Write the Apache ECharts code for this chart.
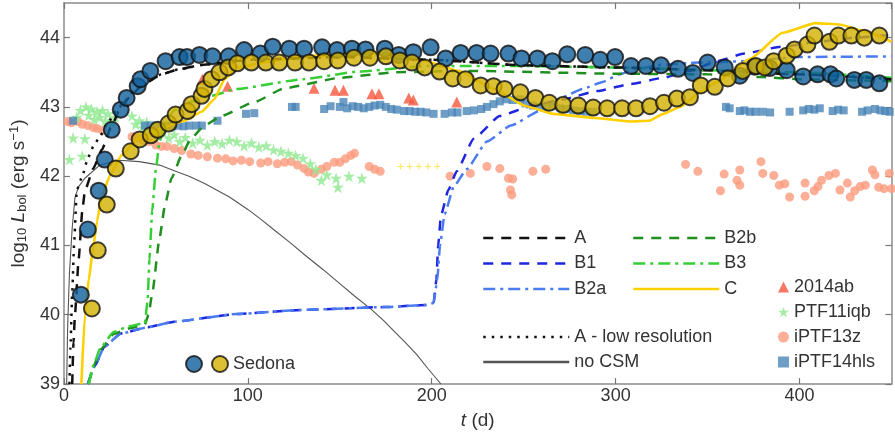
<!DOCTYPE html>
<html>
<head>
<meta charset="utf-8">
<script src="https://cdn.jsdelivr.net/npm/echarts@6/dist/echarts.min.js"></script>
<style>
  html, body { margin: 0; padding: 0; background: #fff; }
  #chart { width: 895px; height: 435px; }
</style>
</head>
<body>
<div id="chart"></div>
<script>
// ticks
const xTicks = { min: 0, max: 450, step: 100 };
const yTicks = { min: 39, max: 44.5, step: 1 };

// model light curves, [t (d), log10 L]
const modelA = [[4.5,39],[5.2,39.6],[6,40],[8,40.8],[10,41.5],[11.4,41.79],[16,42.11],[20.6,42.38],[26,42.73],[31,43.0],[36,43.15],[42,43.3],[53,43.47],[62,43.54],[76,43.61],[100,43.68],[150,43.72],[200,43.68],[250,43.6],[300,43.57],[350,43.53],[400,43.47],[450,43.4]];
const modelALow = [[3,39],[3.5,39.5],[4.5,40.3],[5.5,41.0],[7,41.8],[10,42.0],[13,42.26],[16,42.43],[19.5,42.57],[24,42.78],[30,43.0],[40,43.28],[53,43.47],[62,43.54],[76,43.61],[100,43.68],[150,43.72],[200,43.68],[250,43.6],[300,43.57],[350,43.53],[400,43.47],[450,43.4]];
const modelB1 = [[13,39],[16.8,39.26],[22,39.54],[31,39.73],[45.6,39.82],[60,39.9],[94,40.01],[130,40.07],[174,40.11],[197,40.14],[201,40.17],[202.5,40.5],[203.5,41.0],[205,41.43],[209,41.8],[213.6,42.07],[222.8,42.54],[237,42.87],[255,43.02],[271.5,43.11],[290,43.23],[308,43.33],[326,43.42],[340,43.52],[355,43.66],[370,43.77],[390,43.87],[410,43.94],[430,44.0],[450,44.04]];
const modelB2a = [[13,39],[16.8,39.26],[22,39.54],[31,39.73],[45.6,39.82],[60,39.9],[94,40.01],[130,40.07],[174,40.11],[197,40.14],[201,40.17],[203,40.5],[204.5,41.0],[207,41.45],[212,41.85],[219,42.1],[230,42.5],[243,42.73],[260,42.96],[271,43.14],[282,43.26],[293,43.36],[302,43.47],[311,43.55],[326,43.61],[345,43.64],[370,43.66],[400,43.72],[450,43.73]];
const modelB2b = [[13.5,39],[16,39.25],[20,39.5],[27,39.72],[35,39.8],[44,39.86],[46,40.0],[48,40.3],[52,41.11],[55,41.59],[58.5,41.97],[64,42.3],[69,42.54],[76.4,42.73],[85.6,42.87],[103.5,43.07],[120,43.27],[150,43.42],[180,43.5],[220,43.52],[300,43.48],[350,43.47],[380,43.43],[400,43.4],[450,43.37]];
const modelB3 = [[13.5,39],[16,39.27],[20,39.53],[27,39.75],[35,39.83],[44,39.88],[45.5,40.2],[46.5,40.8],[48,41.5],[50,42.1],[52,42.5],[55,42.78],[60,42.95],[70,43.08],[80,43.16],[94,43.26],[130,43.4],[160,43.51],[197,43.59],[250,43.59],[300,43.57],[350,43.53],[400,43.5],[450,43.42]];
const modelC = [[9.5,39],[11.4,40.0],[13.5,40.5],[15.9,40.97],[18,41.35],[20.4,41.69],[25,42.01],[31.3,42.3],[40.3,42.54],[54.7,42.71],[65.6,42.8],[74.8,42.93],[81.8,43.11],[87.3,43.4],[94.3,43.57],[112.7,43.66],[130.6,43.73],[161.5,43.78],[179,43.76],[197,43.66],[215.7,43.51],[233.6,43.26],[251.5,43.01],[266,42.9],[289,42.84],[308,42.79],[318,42.8],[326,42.9],[335,43.0],[347,43.23],[354.5,43.35],[372.9,43.69],[390.8,44.07],[408.7,44.21],[421.7,44.19],[435.8,44.09],[450,43.94]];
const noCSM = [[1.5,39],[2,39.8],[3,40.6],[4.5,41.25],[6,41.69],[8,41.85],[11.4,41.97],[19.5,42.16],[30,42.23],[41,42.21],[52,42.16],[60,42.08],[68,42.0],[76,41.9],[83,41.8],[90,41.7],[100,41.52],[107,41.38],[114,41.23],[123,41.04],[132,40.84],[141,40.65],[150,40.45],[158,40.27],[167,40.08],[174,39.91],[180,39.75],[186,39.59],[192,39.42],[198,39.22],[205,39.0]];

// Sedona synthetic light curves
const sedonaA = [[9.2,40.29],[13,41.23],[18.9,41.79],[22.2,42.24],[26,42.67],[30.9,42.96],[34.1,43.13],[40.1,43.3],[41.7,43.4],[47,43.52],[55.3,43.66],[62.9,43.72],[67,43.72],[73.7,43.75],[80.8,43.73],[89.6,43.73],[98,43.82],[106.8,43.77],[113.5,43.87],[122.5,43.84],[130.6,43.84],[140.4,43.86],[148.5,43.82],[156.6,43.84],[164,43.83],[174.5,43.84],[182,43.75],[190,43.79],[199.4,43.86],[207.6,43.7],[215.7,43.78],[224.4,43.78],[232,43.77],[241.7,43.77],[248.8,43.7],[257.5,43.7],[265.6,43.66],[273.7,43.76],[283.5,43.75],[291.6,43.68],[299.7,43.72],[308.4,43.59],[316.5,43.59],[324.7,43.6],[333.9,43.55],[342,43.49],[350,43.64],[359.3,43.57],[367.5,43.45],[375.6,43.58],[383.7,43.56],[393,43.53],[402,43.44],[409.8,43.47],[416.8,43.47],[420,43.41],[429.8,43.39],[436.3,43.39],[443.4,43.34]];
const sedonaC = [[15.2,40.09],[18.4,40.93],[23.3,41.59],[28.2,42.11],[36.3,42.36],[41.2,42.53],[47.2,42.59],[51,42.67],[56.9,42.76],[60.7,42.89],[67.2,42.94],[69.4,43.04],[74.8,43.16],[76.4,43.26],[80.2,43.4],[84.6,43.5],[89.4,43.57],[94.3,43.63],[101.9,43.64],[109.8,43.64],[117.1,43.64],[125.7,43.64],[133.3,43.64],[141.5,43.66],[149,43.67],[157.7,43.71],[166.4,43.71],[175.1,43.73],[182.7,43.67],[189.2,43.64],[196.2,43.57],[204.3,43.51],[211.4,43.41],[218.4,43.4],[226.6,43.31],[233.6,43.3],[239.6,43.26],[248.2,43.21],[256.4,43.13],[263.9,43.06],[271.5,43.03],[279.7,43.02],[287.8,42.99],[295.4,42.98],[303.5,42.98],[311.1,42.98],[318.7,43.01],[326.3,43.06],[333.3,43.12],[340.4,43.14],[346.3,43.31],[353.9,43.29],[361,43.41],[369.1,43.52],[376.2,43.59],[381,43.57],[385.9,43.66],[393,43.74],[397.3,43.83],[404.3,43.9],[408.1,44.03],[416.3,43.94],[421.1,44.03],[428.2,44.03],[435.2,44.0],[443.4,44.03]];

// observed SNe
const sn2014ab = [[75.3,43.4],[89,43.3],[136,43.27],[147.4,43.24],[152,43.24],[167.5,43.19],[171.3,43.19],[187.5,43.13],[190,43.1],[213.6,43.07]];
const ptf11iqb = [[3,42.24],[5,42.55],[7,42.85],[9,42.95],[10,42.29],[11.4,42.54],[12,43.0],[13.5,42.88],[15,42.97],[16.5,42.82],[18,42.93],[19.5,42.85],[21,42.95],[22.5,42.8],[24,42.9],[26,42.78],[28,42.85],[37,42.87],[39,42.75],[41,42.8],[43,42.7],[45,42.78],[47,42.66],[51,42.6],[54,42.64],[57,42.55],[60,42.6],[63,42.5],[66,42.56],[70,42.48],[74,42.52],[78,42.45],[82,42.5],[86,42.47],[90,42.52],[94,42.5],[98,42.44],[102,42.48],[106,42.42],[110,42.44],[114,42.38],[118,42.36],[122,42.33],[126,42.3],[130,42.26],[134,42.18],[137,42.1],[140,41.94],[143,42.02],[148,41.97],[149,41.84],[155,42.0],[162,41.97]];
const iptf13z = [[2,42.79],[4,42.77],[7.6,42.79],[10,42.75],[13,42.73],[16,42.7],[18,42.69],[21,42.66],[37,42.57],[40,42.55],[43,42.52],[46,42.5],[50,42.45],[53,42.43],[56,42.43],[60,42.4],[64,42.37],[69,42.32],[73,42.3],[78,42.28],[83.5,42.26],[88,42.25],[92,42.22],[96.5,42.23],[101,42.21],[107,42.19],[111,42.21],[116,42.18],[120,42.2],[123.6,42.21],[127,42.16],[130.6,42.11],[133,42.06],[136,42.04],[140,42.1],[143,42.14],[147,42.2],[150,42.2],[153,42.25],[156,42.3],[158,42.33],[166,42.14],[169,42.1],[172,42.07],[210,42.0],[221,42.04],[230,42.14],[237,42.11],[241.7,41.97],[244,41.96],[242.8,41.8],[243.5,41.73],[255,42.07],[262,42.1],[338,42.17],[344.7,42.07],[357,41.79],[359,42.03],[367.5,42.09],[366,41.94],[367.5,41.87],[379,42.21],[380,42.04],[386,42.01],[389,41.87],[392,41.89],[394.6,41.7],[403,41.9],[403,41.71],[408,41.79],[410,41.85],[412,41.94],[416,42.01],[419.5,42.04],[422,41.8],[426,41.9],[427.6,41.7],[430,41.79],[433,41.85],[435.8,41.87],[439.6,42.09],[441,42.02],[443,41.84],[446,41.82],[448.8,42.04],[450,41.82]];
const iptf14hls = [[5,42.8],[44,42.73],[47,42.73],[50,42.73],[53,42.72],[56,42.73],[59,42.72],[62,42.73],[65,42.72],[68,42.73],[72,42.73],[75,42.73],[83.5,42.8],[99,42.9],[103.5,42.91],[124,43.0],[126,43.0],[141.5,42.97],[145,43.01],[150,43.0],[152,43.07],[154,42.98],[157,43.01],[160,43.0],[163,42.98],[166,43.0],[169,43.02],[172,43.03],[175,43.0],[178,42.97],[181,42.96],[185,42.94],[188,42.94],[191,42.93],[194,42.93],[197,42.92],[201,42.9],[207,42.9],[211,42.92],[214,42.92],[219,42.94],[223,42.95],[227,42.97],[230,43.0],[233.6,43.04],[237,43.08],[240.6,43.11],[244,43.1],[248,43.11],[251,43.05],[255,43.02],[259,43.0],[263,43.0],[266,43.01],[270,42.98],[273,42.97],[277,42.95],[280.8,42.94],[284,42.93],[287.8,42.93],[360,43.0],[362,42.98],[367.5,42.94],[370,42.95],[373,42.93],[376,42.93],[380,42.93],[384,42.92],[394.6,42.93],[402,42.95],[405,42.97],[408,42.96],[411,42.98],[418,42.94],[421,42.96],[424,42.95],[434,42.93],[437,42.95],[441,42.97],[444,42.95],[446.6,42.94],[449,42.93]];
const extraPlus = [[183,42.14],[188,42.14],[193,42.14],[198,42.14],[203,42.14]];

const FONT = 'Liberation Sans';
const STAR = 'path://M50,2 L61,36 L97,36 L68,57 L79,92 L50,71 L21,92 L32,57 L3,36 L39,36 Z';
const PLUS = 'path://M4,0 h2 v4 h4 v2 h-4 v4 h-2 v-4 h-4 v-2 h4 Z';
const DASH = [10, 8];
const DASHDOT = [12, 5, 3, 5];

function line(name, data, color, dash, width, smooth) {
  return {
    name: name, type: 'line', data: data, symbol: 'none', z: 3,
    smooth: smooth === undefined ? 0.15 : smooth, smoothMonotone: 'x',
    lineStyle: { color: color, width: width || 2.5, type: dash },
    itemStyle: { color: color }
  };
}
function scatter(name, data, symbol, size, color, z, border) {
  return {
    name: name, type: 'scatter', data: data, symbol: symbol, symbolSize: size, z: z,
    itemStyle: border ? { color: color, borderColor: '#111', borderWidth: 2 } : { color: color }
  };
}

const chart = echarts.init(document.getElementById('chart'));

const axisCommon = {
  type: 'value', splitLine: { show: false },
  axisLine: { show: true, onZero: false, lineStyle: { color: '#8c8c8c', width: 1.5 } },
  axisTick: { show: true, inside: true, length: 6, lineStyle: { color: '#777', width: 1.2 } }
};
const lineLegend = {
  orient: 'vertical', selectedMode: false, padding: 0, itemWidth: 86, itemHeight: 14,
  itemGap: 5.5, itemTextGap: 14,
  itemStyle: { opacity: 0 },
  lineStyle: { width: 2.5 },
  textStyle: { fontFamily: FONT, fontSize: 18, color: '#333', lineHeight: 20 }
};

chart.setOption({
  animation: false,
  backgroundColor: '#fff',
  grid: { left: 59, right: 3.5, top: 3, bottom: 47 },
  xAxis: [
    Object.assign({}, axisCommon, {
      min: xTicks.min, max: xTicks.max, interval: xTicks.step,
      name: '{i|t}{n| (d)}', nameLocation: 'middle', nameGap: 27,
      nameTextStyle: { rich: {
        i: { fontFamily: FONT, fontSize: 19, fontStyle: 'italic', color: '#333' },
        n: { fontFamily: FONT, fontSize: 19, color: '#333' } } },
      axisLabel: { fontFamily: FONT, fontSize: 18, color: '#333', margin: 3, showMaxLabel: false }
    }),
    Object.assign({}, axisCommon, {
      position: 'top', min: xTicks.min, max: xTicks.max, interval: xTicks.step,
      axisLabel: { show: false }
    })
  ],
  yAxis: [
    Object.assign({}, axisCommon, {
      min: yTicks.min, max: yTicks.max, interval: yTicks.step,
      name: '{n|log}{s|10}{n| }{i|L}{s|bol}{n| (erg s}{p|\u22121}{n|)}',
      nameLocation: 'middle', nameGap: 30, nameRotate: 90,
      nameTextStyle: { rich: {
        n: { fontFamily: FONT, fontSize: 19, color: '#333' },
        i: { fontFamily: FONT, fontSize: 19, fontStyle: 'italic', color: '#333' },
        s: { fontFamily: FONT, fontSize: 13, color: '#333', verticalAlign: 'bottom', padding: [8, 0, 0, 0] },
        p: { fontFamily: FONT, fontSize: 13, color: '#333', verticalAlign: 'top', padding: [0, 0, 8, 0] } } },
      axisLabel: { fontFamily: FONT, fontSize: 18, color: '#333', margin: 4, showMaxLabel: false }
    }),
    Object.assign({}, axisCommon, {
      position: 'right', min: yTicks.min, max: yTicks.max, interval: yTicks.step,
      axisLabel: { show: false }
    })
  ],
  legend: [
    Object.assign({}, lineLegend, { left: 482, top: 228, data: ['A', 'B1', 'B2a'] }),
    Object.assign({}, lineLegend, { left: 632, top: 228, data: ['B2b', 'B3', 'C'] }),
    Object.assign({}, lineLegend, { left: 482, top: 327, itemGap: 5, data: ['A - low resolution', 'no CSM'] }),
    {
      orient: 'vertical', selectedMode: false, padding: 0, left: 778, top: 277,
      itemWidth: 11, itemHeight: 11, itemGap: 5, itemTextGap: 10,
      textStyle: { fontFamily: FONT, fontSize: 18, color: '#333', lineHeight: 20 },
      data: ['2014ab', 'PTF11iqb', 'iPTF13z', 'iPTF14hls']
    },
    {
      selectedMode: false, padding: 0, left: 185, top: 355, itemWidth: 16, itemHeight: 16,
      itemTextGap: 0, formatter: function () { return ''; },
      data: ['Sedona A']
    },
    {
      selectedMode: false, padding: 0, left: 211, top: 355, itemWidth: 16, itemHeight: 16, itemTextGap: 5,
      formatter: function () { return 'Sedona'; },
      textStyle: { fontFamily: FONT, fontSize: 18, color: '#333' },
      data: ['Sedona C']
    }
  ],
  series: [
    scatter('iPTF13z', iptf13z, 'circle', 9, '#fb9a7c', 1),
    scatter('PTF11iqb', ptf11iqb, STAR, 12, '#8fe98f', 1),
    scatter('iPTF14hls', iptf14hls, 'rect', 8, '#4a85b8', 1),
    scatter('2014ab', sn2014ab, 'triangle', 11, '#f6563c', 1),
    scatter('plus', extraPlus, PLUS, 6, '#ffe23a', 1),
    line('no CSM', noCSM, '#555555', 'solid', 1.1, false),
    line('A - low resolution', modelALow, '#111111', [2.5, 6]),
    line('B1', modelB1, '#1f26e0', DASH),
    line('B2a', modelB2a, '#4a7cf0', DASHDOT),
    line('B2b', modelB2b, '#1f8f1f', DASH),
    line('B3', modelB3, '#36cf36', DASHDOT),
    line('C', modelC, '#ffd000', 'solid', 2.6),
    line('A', modelA, '#111111', DASH),
    scatter('Sedona A', sedonaA, 'circle', 16, '#0f5f9b', 5, true),
    scatter('Sedona C', sedonaC, 'circle', 16, '#d2b000', 5, true)
  ]
});
</script>
</body>
</html>
